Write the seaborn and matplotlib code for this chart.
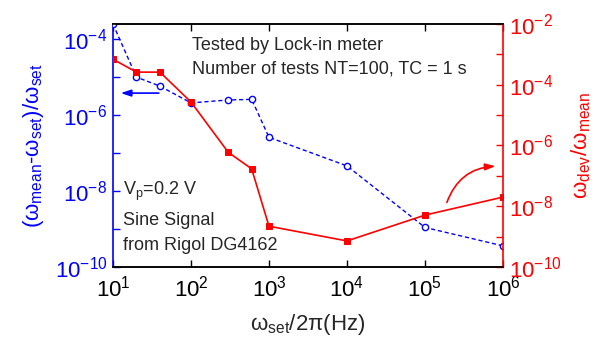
import matplotlib
matplotlib.use("Agg")
import matplotlib.pyplot as plt
import seaborn as sns
import pandas as pd
from matplotlib.ticker import FixedLocator, FixedFormatter, NullLocator, NullFormatter

# ---- data ----
freq = [10, 20, 40, 100, 300, 600, 1000, 1e4, 1e5, 1e6]
rel_error = [2.5e-4, 1.0e-5, 5.8e-6, 2.1e-6, 2.5e-6, 2.6e-6, 2.6e-7, 4.6e-8, 1.1e-9, 3.6e-10]
rel_dev = [6.9e-4, 2.6e-4, 2.6e-4, 2.7e-5, 6.0e-7, 1.7e-7, 2.2e-9, 7.2e-10, 5.1e-9, 2.0e-8]

x_ticks = [1e1, 1e2, 1e3, 1e4, 1e5, 1e6]
x_ticklabels = ["$10^{1}$", "$10^{2}$", "$10^{3}$", "$10^{4}$", "$10^{5}$", "$10^{6}$"]
left_ticks = [1e-10, 1e-8, 1e-6, 1e-4]
left_ticklabels = ["$10^{-10}$", "$10^{-8}$", "$10^{-6}$", "$10^{-4}$"]
left_minor = [1e-9, 1e-7, 1e-5]
right_ticks = [1e-10, 1e-8, 1e-6, 1e-4, 1e-2]
right_ticklabels = ["$10^{-10}$", "$10^{-8}$", "$10^{-6}$", "$10^{-4}$", "$10^{-2}$"]
right_minor = [1e-9, 1e-7, 1e-5, 1e-3]

df = pd.DataFrame({"freq": freq, "err": rel_error, "dev": rel_dev})

sns.set_style("ticks")
plt.rcParams["font.family"] = ["Liberation Sans", "DejaVu Sans"]
plt.rcParams["mathtext.fontset"] = "custom"
plt.rcParams["mathtext.rm"] = "Liberation Sans"
plt.rcParams["mathtext.it"] = "Liberation Sans:italic"
plt.rcParams["mathtext.default"] = "regular"
plt.rcParams["axes.unicode_minus"] = False

BLUE = "#0000FF"
RED = "#FF0000"

fig = plt.figure(figsize=(5.99, 3.49), dpi=100)
ax = fig.add_axes([0.1886, 0.235, 0.6511, 0.6963])
ax2 = ax.twinx()

sns.lineplot(data=df, x="freq", y="err", ax=ax, color=BLUE, linestyle=(0, (3, 2)),
             linewidth=1.0, marker="o", markersize=4.5, markerfacecolor="white",
             markeredgecolor=BLUE, markeredgewidth=1.0, zorder=3)
sns.lineplot(data=df, x="freq", y="dev", ax=ax2, color=RED, linestyle="-",
             linewidth=1.2, marker="s", markersize=5, markerfacecolor=RED,
             markeredgecolor=RED, zorder=3)

for a in (ax, ax2):
    a.set_xscale("log")
    a.set_yscale("log")
ax.set_xlim(10, 1e6)
ax.set_ylim(1e-10, 10 ** -3.6)
ax2.set_ylim(1e-10, 1e-2)

ax.xaxis.set_major_locator(FixedLocator(x_ticks))
ax.xaxis.set_major_formatter(FixedFormatter(x_ticklabels))
ax.xaxis.set_minor_locator(NullLocator())
ax.xaxis.set_minor_formatter(NullFormatter())

ax.yaxis.set_major_locator(FixedLocator(left_ticks))
ax.yaxis.set_major_formatter(FixedFormatter(left_ticklabels))
ax.yaxis.set_minor_locator(FixedLocator(left_minor))
ax.yaxis.set_minor_formatter(NullFormatter())

ax2.yaxis.set_major_locator(FixedLocator(right_ticks))
ax2.yaxis.set_major_formatter(FixedFormatter(right_ticklabels))
ax2.yaxis.set_minor_locator(FixedLocator(right_minor))
ax2.yaxis.set_minor_formatter(NullFormatter())

ax.tick_params(axis="x", which="both", direction="in", top=True, length=5, width=1,
               labelsize=16, colors="black", pad=6)
ax.tick_params(axis="y", which="both", direction="in", length=5, width=1,
               labelsize=16, colors=BLUE, pad=4)
ax2.tick_params(axis="y", which="both", direction="in", length=5, width=1,
                labelsize=16, colors=RED, pad=4)

ax.spines["left"].set_color(BLUE)
ax.spines["right"].set_visible(False)
ax2.spines["left"].set_visible(False)
ax2.spines["right"].set_color(RED)
for a in (ax, ax2):
    for s in a.spines.values():
        s.set_linewidth(1.2)
ax2.spines["top"].set_color("black")
ax2.spines["bottom"].set_color("black")

ax.set_xlabel(r"$\omega_{set}$/2$\pi$(Hz)", fontsize=16, labelpad=8)
ax.set_ylabel(r"($\omega_{mean}$-$\omega_{set}$)/$\omega_{set}$", fontsize=16, color=BLUE, labelpad=6)
ax2.set_ylabel(r"$\omega_{dev}$/$\omega_{mean}$", fontsize=16, color=RED, labelpad=6)

# texts
fig.text(192 / 599, 1 - 45 / 349, "Tested by Lock-in meter", fontsize=13, va="center", ha="left")
fig.text(192 / 599, 1 - 69 / 349, "Number of tests NT=100, TC = 1 s", fontsize=13, va="center", ha="left")
fig.text(123 / 599, 1 - 191 / 349, "V$_{p}$=0.2 V", fontsize=13, va="center", ha="left")
fig.text(123 / 599, 1 - 221 / 349, "Sine Signal", fontsize=13, va="center", ha="left")
fig.text(123 / 599, 1 - 245 / 349, "from Rigol DG4162", fontsize=13, va="center", ha="left")

# arrows
ax.annotate("", xy=(11.6, 3.8e-6), xytext=(42, 3.8e-6),
            arrowprops=dict(arrowstyle="-|>,head_length=0.6,head_width=0.2", color=BLUE, lw=1.2))
ax2.annotate("", xy=(8.7e5, 2.1e-7), xytext=(1.86e5, 1.1e-8),
             arrowprops=dict(arrowstyle="-|>,head_length=0.6,head_width=0.2", color=RED, lw=1.2,
                             connectionstyle="arc3,rad=-0.35"))

fig.savefig("out.png", dpi=100)
